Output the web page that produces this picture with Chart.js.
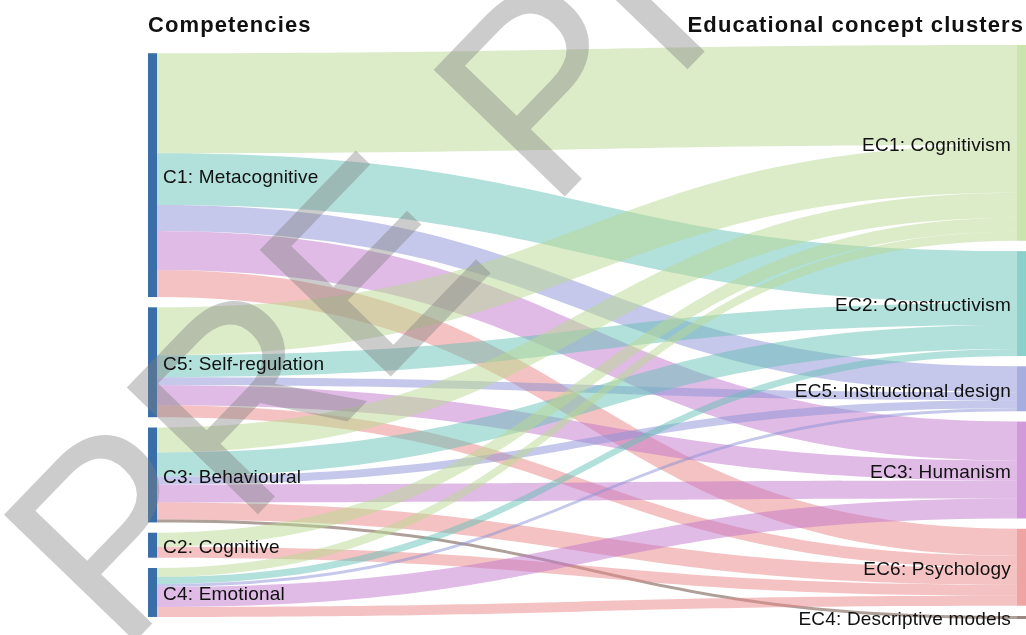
<!DOCTYPE html>
<html>
<head>
<meta charset="utf-8">
<title>Competencies to educational concept clusters</title>
<script src="https://cdn.jsdelivr.net/npm/chart.js@4.4.1/dist/chart.umd.min.js"></script>
<style>
    html, body { margin: 0; padding: 0; background: #fff; }
    #wrap { position: relative; width: 1026px; height: 635px; }
</style>
</head>
<body>
<div id="wrap"><canvas id="sankeyChart"></canvas></div>
<script>
// ===========================
// Data
// ===========================

const competencies = ['C1: Metacognitive', 'C5: Self-regulation', 'C3: Behavioural', 'C2: Cognitive', 'C4: Emotional'];
const clusters = ['EC1: Cognitivism', 'EC2: Constructivism', 'EC5: Instructional design', 'EC3: Humanism', 'EC6: Psychology', 'EC4: Descriptive models'];

// flow weight from each competency to each cluster (same order as clusters)
const flowC1 = [100, 52, 26, 39, 27, 0];
const flowC5 = [48, 22, 8, 20, 12, 0];
const flowC3 = [25, 24, 8, 18, 17, 3];
const flowC2 = [14, 0, 0, 0, 11, 0];
const flowC4 = [9, 7, 3, 20, 10, 0];
const flows = [flowC1, flowC5, flowC3, flowC2, flowC4];

const leftTitle = 'Competencies';
const rightTitle = 'Educational concept clusters';
const watermark = 'PRE PRINT';

// ===========================
// Styles
// ===========================

const clusterColors = ['185, 217, 145', '101, 193, 183', '139, 145, 213', '193, 119, 205', '233, 133, 133', '120, 95, 85'];
const competencyColor = '#3a6ea8';
const NODE_W = 9;
const NODE_PAD = 10.3;
const FONT = '"Liberation Sans", Arial, Helvetica, sans-serif';

function sum(arr) { return arr.reduce((a, b) => a + b, 0); }

const leftTotals = flows.map(sum);
const rightTotals = clusters.map((_, j) => sum(flows.map(row => row[j])));
const rightHeight = sum(rightTotals) + NODE_PAD * (clusters.length - 1);
const leftHeight = sum(leftTotals) + NODE_PAD * (competencies.length - 1);
const leftOffset = (rightHeight - leftHeight) * 0.8;

// ===========================
// Layout (value units on the y scale)
// ===========================

function stack(totals, start) {
    const tops = [];
    let y = start;
    totals.forEach(t => { tops.push(y); y += t + NODE_PAD; });
    return tops;
}

const leftTops = stack(leftTotals, leftOffset);
const rightTops = stack(rightTotals, 0);

// ===========================
// Sankey drawing plugin
// ===========================

const sankeyPlugin = {
    id: 'sankeyFlows',
    beforeDatasetsDraw(chart) {
        const ctx = chart.ctx;
        const xs = chart.scales.x, ys = chart.scales.y;
        const x0 = xs.getPixelForValue(0), x1 = xs.getPixelForValue(1);
        const sx = x0 + NODE_W, tx = x1 - NODE_W;
        const xm = (sx + tx) / 2;

        const srcOff = leftTops.slice();
        const tgtOff = rightTops.slice();

        ctx.save();
        flows.forEach((row, i) => {
            row.forEach((v, j) => {
                if (!v) return;
                const a0 = ys.getPixelForValue(srcOff[i]);
                const a1 = ys.getPixelForValue(srcOff[i] + v);
                const b0 = ys.getPixelForValue(tgtOff[j]);
                const b1 = ys.getPixelForValue(tgtOff[j] + v);
                srcOff[i] += v;
                tgtOff[j] += v;

                ctx.beginPath();
                ctx.moveTo(sx, a0);
                ctx.bezierCurveTo(xm, a0, xm, b0, tx, b0);
                ctx.lineTo(tx, b1);
                ctx.bezierCurveTo(xm, b1, xm, a1, sx, a1);
                ctx.closePath();
                ctx.fillStyle = 'rgba(' + clusterColors[j] + ', ' + (j === 5 ? 0.6 : 0.5) + ')';
                ctx.fill();
            });
        });

        // competency nodes
        competencies.forEach((name, i) => {
            const top = ys.getPixelForValue(leftTops[i]);
            const bot = ys.getPixelForValue(leftTops[i] + leftTotals[i]);
            ctx.fillStyle = competencyColor;
            ctx.fillRect(x0, top, NODE_W, bot - top);
        });

        // cluster nodes
        clusters.forEach((name, j) => {
            const top = ys.getPixelForValue(rightTops[j]);
            const bot = ys.getPixelForValue(rightTops[j] + rightTotals[j]);
            ctx.fillStyle = 'rgba(' + clusterColors[j] + ', 0.75)';
            ctx.fillRect(tx, top, NODE_W, Math.max(bot - top, 2));
        });
        ctx.restore();
    },
    afterDraw(chart) {
        const ctx = chart.ctx;
        const xs = chart.scales.x, ys = chart.scales.y;
        const x0 = xs.getPixelForValue(0), x1 = xs.getPixelForValue(1);

        // watermark
        ctx.save();
        ctx.translate(120, 657);
        ctx.rotate(-46 * Math.PI / 180);
        ctx.font = '265px ' + FONT;
        ctx.fillStyle = 'rgba(128, 128, 128, 0.4)';
        ctx.textBaseline = 'alphabetic';
        ctx.fillText(watermark, 0, 0);
        ctx.restore();

        // node labels
        ctx.save();
        ctx.fillStyle = '#111';
        ctx.font = '19px ' + FONT;
        ctx.letterSpacing = '0.2px';
        ctx.textBaseline = 'middle';
        ctx.textAlign = 'left';
        competencies.forEach((name, i) => {
            const yc = ys.getPixelForValue(leftTops[i] + leftTotals[i] / 2);
            ctx.fillText(name, x0 + NODE_W + 6, yc + 2.5);
        });
        ctx.textAlign = 'right';
        clusters.forEach((name, j) => {
            const yc = ys.getPixelForValue(rightTops[j] + rightTotals[j] / 2);
            ctx.fillText(name, x1 - NODE_W - 6, yc + 2.5);
        });

        // column titles
        ctx.font = 'bold 22px ' + FONT;
        ctx.letterSpacing = '1.1px';
        ctx.textBaseline = 'alphabetic';
        ctx.textAlign = 'left';
        ctx.fillText(leftTitle, x0, 32);
        ctx.textAlign = 'right';
        ctx.fillText(rightTitle, x1 - 2, 32);
        ctx.restore();
    }
};

// ===========================
// Chart
// ===========================

function initSankeyChart() {
    const el = document.getElementById('sankeyChart');
    return new Chart(el, {
        type: 'scatter',
        data: { datasets: [{ data: [], pointRadius: 0 }] },
        options: {
            responsive: true,
            maintainAspectRatio: false,
            animation: false,
            layout: { padding: { left: 148, right: 0, top: 45, bottom: 16 } },
            plugins: { legend: { display: false }, tooltip: { enabled: false } },
            scales: {
                x: { type: 'linear', min: 0, max: 1, display: false },
                y: { type: 'linear', min: 0, max: rightHeight, reverse: true, display: false }
            }
        },
        plugins: [sankeyPlugin]
    });
}

initSankeyChart();
</script>
</body>
</html>
